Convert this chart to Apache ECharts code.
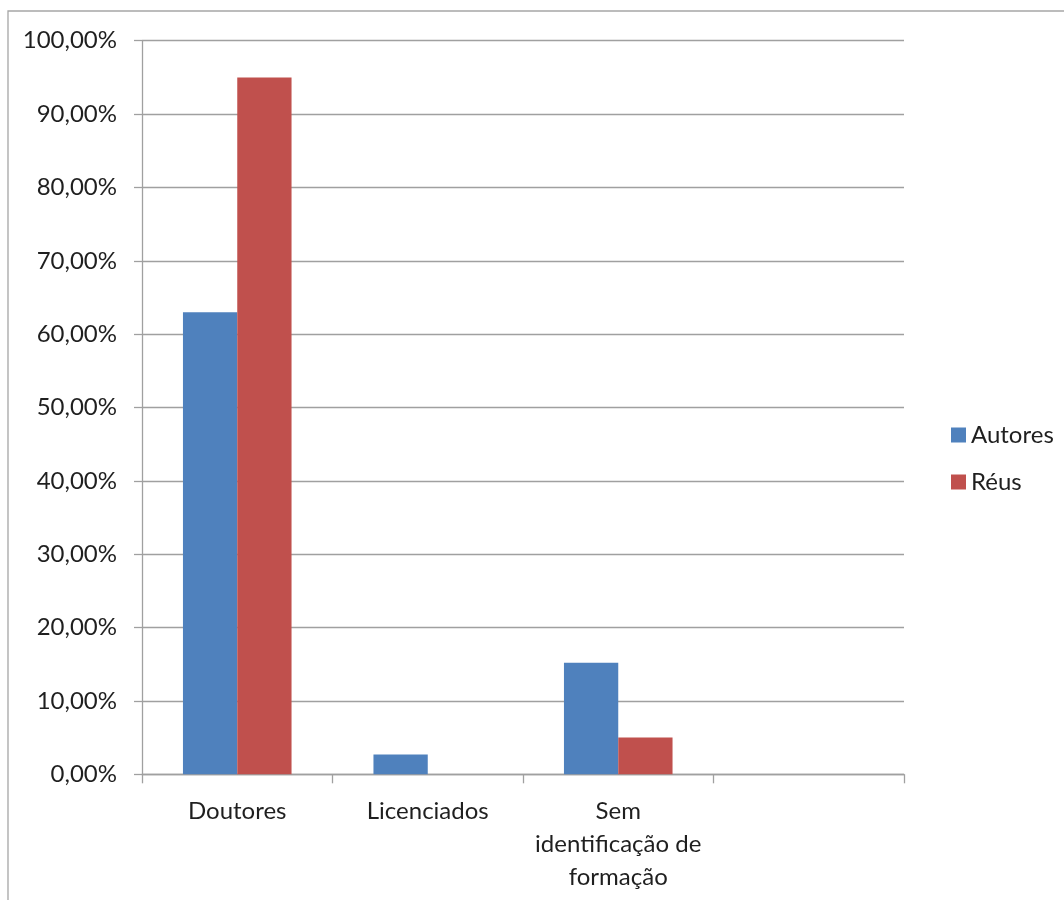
<!DOCTYPE html>
<html>
<head>
<meta charset="utf-8">
<script src="https://cdn.jsdelivr.net/npm/echarts@6/dist/echarts.min.js"></script>
<style>
  html, body { margin: 0; padding: 0; background: #fff; }
  #chart { width: 1064px; height: 900px; }
</style>
</head>
<body>
<div id="chart"></div>
<script>
// Categories (the fourth slot is an empty category)
const categories = ['Doutores', 'Licenciados', 'Sem\nidentificação de\nformação', ''];
// Percentages per group
const autores = [63.0, 2.7, 15.2, null];
const reus = [95.0, 0, 5.0, null];
// Value axis range
const yMin = 0;
const yMax = 100;
const yStep = 10;

const FONT = 'Lato, "Open Sans", sans-serif';
const TEXT = '#1f1f1f';
const LINE = '#a0a0a0';

const chart = echarts.init(document.getElementById('chart'), null, { renderer: 'canvas' });

chart.setOption({
  backgroundColor: '#ffffff',
  animation: false,
  textStyle: { fontFamily: FONT },
  graphic: [{
    type: 'rect',
    silent: true,
    shape: { x: 8, y: 11, width: 1200, height: 1100 },
    style: { fill: 'none', stroke: '#a6a6a6', lineWidth: 1.3 }
  }],
  grid: { left: 142, right: 160, top: 40.7, bottom: 125.7 },
  legend: {
    orient: 'vertical',
    left: 946,
    top: 415,
    itemWidth: 15,
    itemHeight: 15,
    itemGap: 17,
    icon: 'rect',
    textStyle: { fontFamily: FONT, fontSize: 24, color: TEXT, lineHeight: 30, padding: [0, 0, 0, 0] },
    data: ['Autores', 'Réus']
  },
  xAxis: {
    type: 'category',
    data: categories,
    boundaryGap: true,
    axisLine: { show: true, lineStyle: { color: LINE, width: 1.3 } },
    axisTick: { show: true, length: 9, alignWithLabel: false, lineStyle: { color: LINE, width: 1.3 } },
    axisLabel: { interval: 0, fontFamily: FONT, fontSize: 24, color: TEXT, lineHeight: 33, margin: 20 },
    splitLine: { show: false }
  },
  yAxis: {
    type: 'value',
    min: yMin,
    max: yMax,
    interval: yStep,
    axisLine: { show: true, lineStyle: { color: LINE, width: 1.3 } },
    axisTick: { show: true, length: 8, lineStyle: { color: LINE, width: 1.3 } },
    axisLabel: {
      fontFamily: FONT, fontSize: 24, color: TEXT, margin: 25,
      formatter: v => v.toFixed(2).replace('.', ',') + '%'
    },
    splitLine: { show: true, lineStyle: { color: LINE, width: 1.3 } }
  },
  series: [
    {
      name: 'Autores',
      type: 'bar',
      data: autores,
      barGap: '0%',
      barCategoryGap: '43%',
      itemStyle: { color: '#4f81bd' }
    },
    {
      name: 'Réus',
      type: 'bar',
      data: reus,
      barGap: '0%',
      barCategoryGap: '43%',
      itemStyle: { color: '#c0504d' }
    }
  ]
});
</script>
</body>
</html>
